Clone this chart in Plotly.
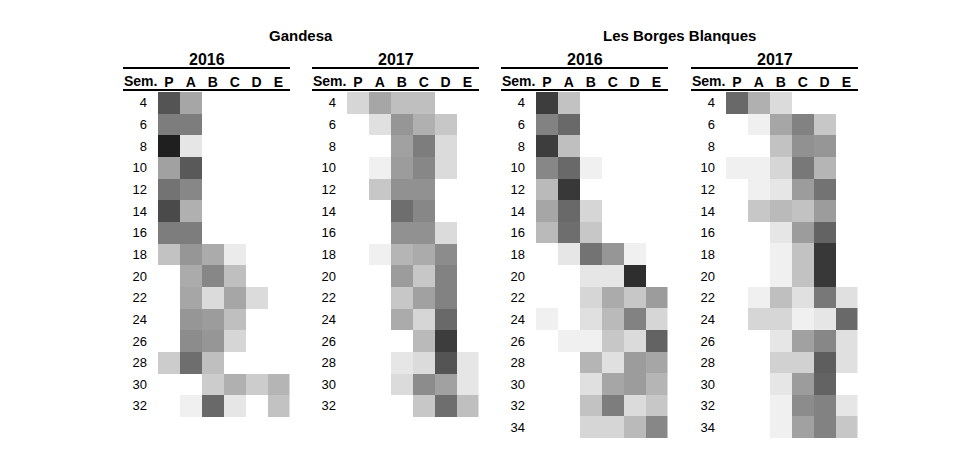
import plotly.graph_objects as go

W, H = 980, 459
N = None

stages = ["P", "A", "B", "C", "D", "E"]
weeks_gandesa = [4, 6, 8, 10, 12, 14, 16, 18, 20, 22, 24, 26, 28, 30, 32]
weeks_borges = [4, 6, 8, 10, 12, 14, 16, 18, 20, 22, 24, 26, 28, 30, 32, 34]
sites = ["Gandesa", "Les Borges Blanques"]
years = ["2016", "2017"]

# relative abundance (darkness 0-1) per week and stage; None = empty cell
gandesa_2016 = [
    [.67, .35, N, N, N, N],
    [.51, .51, N, N, N, N],
    [.88, .10, N, N, N, N],
    [.37, .65, N, N, N, N],
    [.55, .47, N, N, N, N],
    [.71, .31, N, N, N, N],
    [.51, .51, N, N, N, N],
    [.24, .41, .33, .08, N, N],
    [N, .33, .47, .25, N, N],
    [N, .35, .14, .35, .14, N],
    [N, .41, .39, .25, N, N],
    [N, .45, .41, .16, N, N],
    [.20, .57, .25, N, N, N],
    [N, N, .20, .31, .20, .29],
    [N, .06, .59, .10, N, .24],
]
gandesa_2017 = [
    [.16, .35, .25, .25, N, N],
    [N, .12, .41, .31, .22, N],
    [N, N, .37, .51, .14, N],
    [N, .06, .39, .47, .14, N],
    [N, .22, .43, .43, N, N],
    [N, N, .57, .47, N, N],
    [N, N, .43, .43, .14, N],
    [N, .06, .29, .33, .45, N],
    [N, N, .39, .22, .49, N],
    [N, N, .22, .37, .49, N],
    [N, N, .33, .16, .59, N],
    [N, N, N, .27, .76, N],
    [N, N, .10, .14, .67, .10],
    [N, N, .14, .45, .37, .10],
    [N, N, N, .22, .57, .25],
]
borges_2016 = [
    [.76, .24, N, N, N, N],
    [.49, .59, N, N, N, N],
    [.76, .25, N, N, N, N],
    [.47, .59, .06, N, N, N],
    [.27, .78, N, N, N, N],
    [.35, .59, .16, N, N, N],
    [.27, .57, .22, N, N, N],
    [N, .10, .55, .41, .06, N],
    [N, N, .10, .10, .82, N],
    [N, N, .16, .33, .22, .39],
    [.06, N, .12, .27, .49, .16],
    [N, .06, .06, .22, .14, .61],
    [N, N, .29, .12, .39, .35],
    [N, N, .12, .35, .39, .29],
    [N, N, .24, .51, .14, .22],
    [N, N, .16, .16, .27, .47],
]
borges_2017 = [
    [.59, .31, .14, N, N, N],
    [N, .06, .35, .49, .22, N],
    [N, N, .24, .43, .41, N],
    [.06, .06, .16, .53, .29, N],
    [N, .06, .10, .39, .55, N],
    [N, .22, .27, .24, .39, N],
    [N, N, .10, .39, .61, N],
    [N, N, .06, .24, .78, N],
    [N, N, .06, .24, .78, N],
    [N, .06, .25, .12, .53, .12],
    [N, .16, .16, .06, .10, .59],
    [N, N, .10, .37, .47, .12],
    [N, N, .18, .18, .63, .12],
    [N, N, .10, .39, .61, N],
    [N, N, .06, .45, .49, .10],
    [N, N, .06, .37, .49, .22],
]

panels = [
    (years[0], weeks_gandesa, gandesa_2016),
    (years[1], weeks_gandesa, gandesa_2017),
    (years[0], weeks_borges, borges_2016),
    (years[1], weeks_borges, borges_2017),
]

cell_left = [158, 347, 536, 726]
cell_w = 131.5
top_px, row_h = 92, 21.65
bot_px = top_px + 16 * row_h

FONT = "Liberation Sans, Arial, sans-serif"

def py(p):
    return 1 - p / H

fig = go.Figure()
shapes, annotations = [], []
layout = {}

for i, (yr, wk, z) in enumerate(panels):
    n = i + 1
    L = cell_left[i]
    xa = "x" if n == 1 else f"x{n}"
    ya = "y" if n == 1 else f"y{n}"
    fig.add_trace(go.Heatmap(
        z=z, x=list(range(len(stages))), y=wk,
        xaxis=xa, yaxis=ya,
        colorscale=[[0, "#ffffff"], [1, "#000000"]],
        zmin=0, zmax=1, showscale=False, hoverongaps=False,
    ))
    layout[f"xaxis{n if n > 1 else ''}"] = dict(
        domain=[L / W, (L + cell_w) / W], range=[-0.5, 5.5],
        side="top", anchor=ya, tickmode="array",
        tickvals=list(range(len(stages))), ticktext=stages,
        tickfont=dict(family=FONT, size=14, color="black", weight="bold"),
        showgrid=False, zeroline=False, showline=False, ticks="",
        ticklabelstandoff=1, fixedrange=True,
    )
    layout[f"yaxis{n if n > 1 else ''}"] = dict(
        domain=[py(bot_px), py(top_px)], range=[35, 3],
        anchor=xa, tickmode="array", tickvals=wk,
        ticktext=[str(w) for w in wk],
        tickfont=dict(family=FONT, size=13, color="black"),
        showgrid=False, zeroline=False, showline=False, ticks="",
        ticklabelstandoff=10, fixedrange=True,
    )
    x0, x1 = (L - 35) / W, (L + 132) / W
    for yy in (68, 90):
        shapes.append(dict(type="line", xref="paper", yref="paper",
                           x0=x0, x1=x1, y0=py(yy), y1=py(yy),
                           line=dict(color="black", width=2)))
    annotations.append(dict(text=yr, xref="paper", yref="paper",
                            x=(x0 + x1) / 2, y=py(60), showarrow=False,
                            xanchor="center", yanchor="middle",
                            font=dict(family=FONT, size=16, color="black", weight="bold")))
    annotations.append(dict(text="Sem.", xref="paper", yref="paper",
                            x=(L - 18) / W, y=py(81), showarrow=False,
                            xanchor="center", yanchor="middle",
                            font=dict(family=FONT, size=14, color="black", weight="bold")))

for s, site in enumerate(sites):
    a, b = cell_left[2 * s] - 35, cell_left[2 * s + 1] + 132
    annotations.append(dict(text=site, xref="paper", yref="paper",
                            x=(a + b) / 2 / W, y=py(35), showarrow=False,
                            xanchor="center", yanchor="middle",
                            font=dict(family=FONT, size=15, color="black", weight="bold")))

fig.update_layout(
    width=W, height=H, margin=dict(l=0, r=0, t=0, b=0),
    paper_bgcolor="white", plot_bgcolor="white",
    shapes=shapes, annotations=annotations, showlegend=False,
    **layout,
)

fig.write_html("out.html")
